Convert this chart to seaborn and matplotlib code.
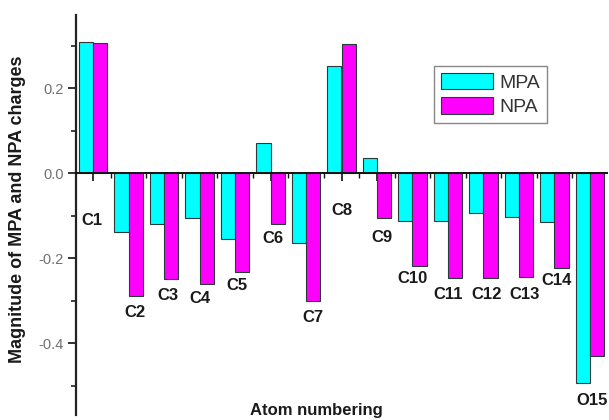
import matplotlib
matplotlib.use("Agg")
import matplotlib.pyplot as plt
from matplotlib.ticker import MultipleLocator, FixedLocator
import pandas as pd
import seaborn as sns

# Atomic charges from the two population analyses
atoms = ["C1", "C2", "C3", "C4", "C5", "C6", "C7", "C8", "C9", "C10",
         "C11", "C12", "C13", "C14", "O15"]
mpa = [0.309, -0.139, -0.120, -0.106, -0.155, 0.070, -0.164, 0.252, 0.036,
       -0.112, -0.112, -0.093, -0.104, -0.115, -0.494]
npa = [0.306, -0.289, -0.250, -0.261, -0.233, -0.120, -0.301, 0.304, -0.106,
       -0.219, -0.247, -0.247, -0.244, -0.223, -0.431]
methods = ["MPA", "NPA"]

# Where each atom name sits (x shift in category units, y in data units)
label_dx = [-0.03, 0.18, 0.11, 0.0, 0.06, 0.07, 0.20, 0.0, 0.14, 0.0,
            0.0, 0.10, 0.17, 0.07, 0.07]
label_y = [-0.111, -0.327, -0.287, -0.296, -0.264, -0.153, -0.339, -0.087,
           -0.151, -0.249, -0.285, -0.285, -0.285, -0.252, -0.534]

df = pd.DataFrame({
    "atom": atoms * 2,
    "method": [methods[0]] * len(atoms) + [methods[1]] * len(atoms),
    "charge": mpa + npa,
})

sns.set_theme(style="white")
plt.rcParams["font.family"] = ["Liberation Sans", "DejaVu Sans"]

fig = plt.figure(figsize=(6.09, 4.20), dpi=100)
ax = fig.add_axes([76 / 609, 5 / 420, 531 / 609, 400 / 420])

sns.barplot(data=df, x="atom", y="charge", hue="method", order=atoms,
            hue_order=methods, palette=["#00FFFF", "#FF00FF"], saturation=1,
            width=0.8, edgecolor="#2a3a3a", linewidth=0.8, ax=ax)

ax.set_xlim(-0.48, 14.48)
ax.set_ylim(-0.569, 0.372)

# Axis styling: left spine plus a baseline at zero carrying the x ticks
for side in ("top", "right"):
    ax.spines[side].set_visible(False)
ax.spines["left"].set_color("#222222")
ax.spines["left"].set_linewidth(1.6)
ax.spines["bottom"].set_position(("data", 0))
ax.spines["bottom"].set_color("#111111")
ax.spines["bottom"].set_linewidth(1.4)
ax.spines["bottom"].set_zorder(5)

ax.yaxis.set_major_locator(FixedLocator([-0.4, -0.2, 0.0, 0.2]))
ax.yaxis.set_minor_locator(MultipleLocator(0.1))
ax.set_yticklabels(["-0.4", "-0.2", "0.0", "0.2"])
ax.tick_params(axis="y", which="major", direction="out", length=6, width=1.3,
               color="#222222", labelsize=10.5, labelcolor="#707070", pad=3,
               left=True)
ax.tick_params(axis="y", which="minor", direction="out", length=3.5, width=1.2,
               color="#222222", left=True)

ax.xaxis.set_minor_locator(FixedLocator([i + 0.5 for i in range(-1, 15)]))
ax.tick_params(axis="x", which="major", direction="out", length=5.5, width=1.2,
               color="#111111", labelbottom=False, bottom=True)
ax.tick_params(axis="x", which="minor", direction="out", length=3.5, width=1.0,
               color="#111111", bottom=True)

ax.set_xlabel("")
ax.set_ylabel("")
ax.grid(False)

for i, name in enumerate(atoms):
    ax.text(i + label_dx[i], label_y[i], name, ha="center", va="center",
            fontsize=12, fontweight="bold", color="#1a1a1a")

fig.text(316 / 609, 1 - 410 / 420, "Atom numbering", ha="center", va="center",
         fontsize=12, fontweight="bold", color="#1a1a1a")
fig.text(18 / 609, 1 - 209 / 420, "Magnitude of MPA and NPA charges",
         ha="center", va="center", rotation=90, fontsize=13,
         fontweight="bold", color="#1a1a1a")

handles, labels = ax.get_legend_handles_labels()
ax.legend(handles, labels, loc="upper left",
          bbox_to_anchor=((434 - 76) / 531, 1 - (66 - 15) / 400),
          frameon=True, fancybox=False, edgecolor="#888888", framealpha=1,
          fontsize=14, handlelength=2.7, handleheight=0.9,
          handletextpad=0.3, labelspacing=0.3, borderpad=0.35,
          borderaxespad=0, labelcolor="#333333")
ax.get_legend().get_frame().set_linewidth(1.0)

fig.savefig("out.png", dpi=100)
